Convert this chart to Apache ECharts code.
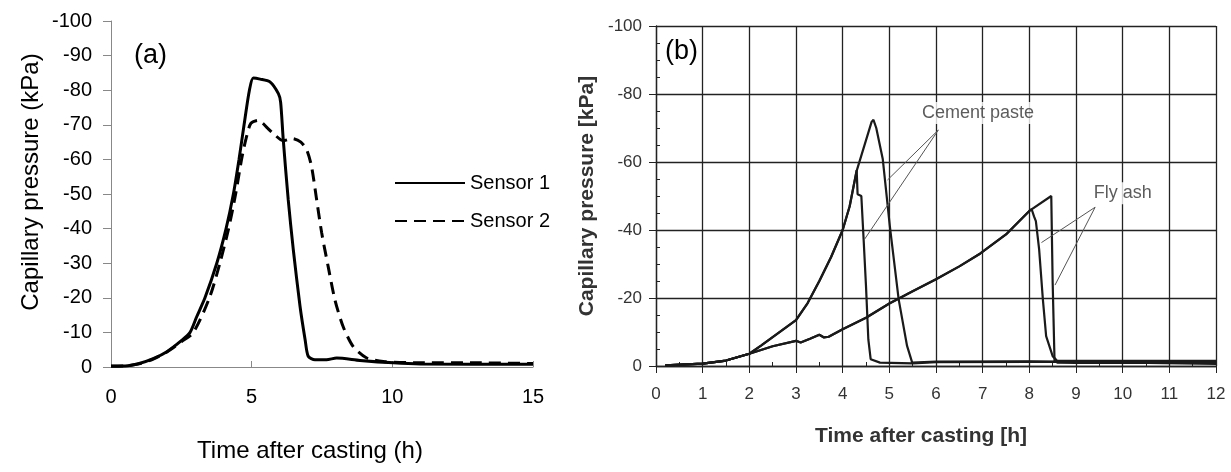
<!DOCTYPE html>
<html><head><meta charset="utf-8">
<script src="https://cdn.jsdelivr.net/npm/echarts@6/dist/echarts.min.js"></script>
<style>html,body{margin:0;padding:0;background:#fff}#c{width:1231px;height:472px}</style>
</head><body><div id="c"></div>
<script>
// ---------- Panel (a) data ----------
const sensor1Time = [0, 0.5, 1, 1.5, 2, 2.5, 2.81, 3.05, 3.34, 3.76, 4.09, 4.35, 4.55, 4.73, 4.92, 5.06, 5.3, 5.65, 5.95, 6.03, 6.12, 6.3, 6.48, 6.72, 6.9, 7.01, 7.25, 7.66, 8.02, 8.85, 10.04, 11, 15];
const sensor1Value = [-0.3, -0.3, -1, -2.4, -4.5, -7.6, -10, -14.6, -20, -30, -40, -50, -60, -70, -80, -83.5, -83.2, -82.4, -79, -76.5, -66, -48.3, -33.9, -17.5, -7.9, -3.1, -2.1, -2.1, -2.6, -1.9, -1.2, -0.9, -0.8];
const sensor2Time = [0, 0.5, 1, 1.5, 2, 2.5, 2.93, 3.5, 3.87, 4.18, 4.43, 4.64, 4.8, 4.97, 5.23, 5.4, 5.57, 5.77, 6.12, 6.45, 6.75, 6.96, 7.13, 7.31, 7.49, 7.72, 7.96, 8.25, 8.61, 9.09, 9.68, 11, 13, 15];
const sensor2Value = [-0.2, -0.3, -0.9, -2.3, -4.4, -7.3, -10, -20, -30, -40, -50, -60, -66, -70.4, -71.3, -70.4, -69, -67.5, -65.4, -66, -65, -62.7, -57.9, -48.3, -38.7, -29, -19.4, -11.7, -5.9, -2.6, -1.6, -1.2, -1.2, -1.0];

// ---------- Panel (b) data ----------
const cementATime = [0.2, 1, 1.5, 2, 2.25, 2.5, 2.75, 3.0, 3.25, 3.5, 3.75, 4.0, 4.15, 4.3, 4.32, 4.4, 4.45, 4.5, 4.55, 4.6, 4.8, 5.5, 6, 8, 12];
const cementAValue = [-0.2, -0.7, -1.6, -3.6, -6, -8.5, -11, -13.5, -18.5, -25, -32, -40, -47, -57.6, -50.5, -50, -37, -23.5, -7.8, -2, -1, -0.8, -1.1, -1.2, -1.2];
const cementBTime = [0.2, 1, 1.5, 2, 2.25, 2.5, 2.75, 3.0, 3.25, 3.5, 3.75, 4.0, 4.15, 4.3, 4.62, 4.66, 4.72, 4.86, 5.01, 5.2, 5.38, 5.49, 6, 8, 12];
const cementBValue = [-0.2, -0.7, -1.6, -3.6, -6, -8.5, -11, -13.5, -18.5, -25, -32, -40, -47, -57.4, -71.8, -72.4, -70, -60.8, -41.2, -19.6, -5.9, -1.0, -1.3, -1.4, -0.6];
const flyAshCTime = [0.2, 1, 1.5, 2, 2.5, 3.0, 3.1, 3.3, 3.5, 3.6, 3.7, 4.0, 4.5, 5.0, 5.5, 6.0, 6.5, 6.95, 7.5, 8.0, 8.05, 8.1, 8.14, 8.21, 8.29, 8.36, 8.5, 8.6, 9, 12];
const flyAshCValue = [-0.2, -0.7, -1.6, -3.6, -5.8, -7.4, -6.9, -8, -9.2, -8.4, -8.6, -10.8, -14.2, -18.4, -22, -25.5, -29.3, -33.1, -38.7, -45.6, -46.1, -44, -42.6, -34.3, -19.6, -8.8, -2.9, -1.5, -1.5, -1.5];
const flyAshDTime = [0.2, 1, 1.5, 2, 2.5, 3.0, 3.1, 3.3, 3.5, 3.6, 3.7, 4.0, 4.5, 5.0, 5.5, 6.0, 6.5, 6.95, 7.5, 8.0, 8.47, 8.5, 8.54, 8.6, 9, 12];
const flyAshDValue = [-0.2, -0.7, -1.6, -3.6, -5.8, -7.4, -6.9, -8, -9.2, -8.4, -8.6, -10.8, -14.2, -18.4, -22, -25.5, -29.3, -33.1, -38.7, -45.6, -50, -24.5, -1.5, -1.0, -0.9, -0.9];

// annotations (data coordinates of panel b)
const cementLabel = [6.9, -74.4];
const cementLeaderFrom = [6.05, -69.4];
const cementLeaderTo = [[4.96, -54.7], [4.46, -37.1]];
const flyLabel = [10.0, -50.8];
const flyLeaderFrom = [9.41, -46.7];
const flyLeaderTo = [[8.26, -36.3], [8.55, -23.8]];

const pairs = (xs, ys) => xs.map((x, i) => [x, ys[i]]);

const FA = '"Liberation Sans", Arial, sans-serif';

const chart = echarts.init(document.getElementById('c'), null, {renderer: 'canvas'});

const bLine = (name, xs, ys) => ({
  type: 'line', name: name, xAxisIndex: 1, yAxisIndex: 1, data: pairs(xs, ys),
  symbol: 'none', showSymbol: false, lineStyle: {color: '#1a1a1a', width: 2.2}, itemStyle: {color: '#1a1a1a'}, z: 3
});

const leaderData = [];
cementLeaderTo.forEach(p => leaderData.push([{coord: cementLeaderFrom}, {coord: p}]));
flyLeaderTo.forEach(p => leaderData.push([{coord: flyLeaderFrom}, {coord: p}]));

chart.setOption({
  animation: false,
  backgroundColor: '#fff',
  grid: [
    {left: 111, top: 21, width: 422, height: 346},
    {left: 656, top: 26, width: 560, height: 340}
  ],
  legend: {
    data: ['Sensor 1', 'Sensor 2'], left: 389, top: 168, orient: 'vertical',
    itemWidth: 70, itemHeight: 14, itemGap: 18,
    itemStyle: {opacity: 0},
    textStyle: {fontSize: 20, color: '#000', fontFamily: FA}
  },
  graphic: [
    {type: 'text', left: 134, top: 42, style: {text: '(a)', fontSize: 27, fill: '#000', fontFamily: FA}},
    {type: 'text', left: 665, top: 38, style: {text: '(b)', fontSize: 27, fill: '#000', fontFamily: FA}}
  ],
  xAxis: [
    {
      gridIndex: 0, type: 'value', min: 0, max: 15, interval: 5,
      axisLine: {onZero: false, lineStyle: {color: '#888', width: 1}},
      axisTick: {inside: true, length: 6, lineStyle: {color: '#888'}},
      axisLabel: {margin: 20, fontSize: 20, color: '#000', fontFamily: FA},
      splitLine: {show: false},
      name: 'Time after casting (h)', nameLocation: 'middle', nameGap: 72,
      nameTextStyle: {fontSize: 24, color: '#000', fontFamily: FA, padding: [0, 24, 0, 0]}
    },
    {
      gridIndex: 1, type: 'value', min: 0, max: 12, interval: 1,
      axisLine: {onZero: false, lineStyle: {color: '#222', width: 1.3}},
      axisTick: {inside: false, length: 7, lineStyle: {color: '#222'}},
      minorTick: {show: true, splitNumber: 2, length: -4, lineStyle: {color: '#222'}},
      axisLabel: {margin: 20, fontSize: 17, color: '#333', fontFamily: FA},
      splitLine: {show: true, lineStyle: {color: '#222', width: 1.3}},
      name: 'Time after casting [h]', nameLocation: 'middle', nameGap: 60,
      nameTextStyle: {fontSize: 21, fontWeight: 'bold', color: '#333', fontFamily: FA, padding: [0, 30, 0, 0]}
    }
  ],
  yAxis: [
    {
      gridIndex: 0, type: 'value', min: -100, max: 0, interval: 10, inverse: true,
      axisLine: {show: true, onZero: false, lineStyle: {color: '#888', width: 1}},
      axisTick: {show: true, length: 8, lineStyle: {color: '#888'}},
      axisLabel: {margin: 19, fontSize: 20, color: '#000', fontFamily: FA},
      splitLine: {show: false},
      name: 'Capillary pressure (kPa)', nameLocation: 'middle', nameGap: 68,
      nameTextStyle: {fontSize: 24, color: '#000', fontFamily: FA, padding: [0, 0, 0, 24]}
    },
    {
      gridIndex: 1, type: 'value', min: -100, max: 0, interval: 20, inverse: true,
      axisLine: {show: true, onZero: false, lineStyle: {color: '#222', width: 1.3}},
      axisTick: {show: true, length: 7, lineStyle: {color: '#222'}},
      minorTick: {show: true, splitNumber: 4, length: -4, lineStyle: {color: '#222'}},
      axisLabel: {margin: 14, fontSize: 17, color: '#333', fontFamily: FA},
      splitLine: {show: true, lineStyle: {color: '#222', width: 1.3}},
      name: 'Capillary pressure [kPa]', nameLocation: 'middle', nameGap: 58,
      nameTextStyle: {fontSize: 21, fontWeight: 'bold', color: '#333', fontFamily: FA}
    }
  ],
  series: [
    {
      type: 'line', name: 'Sensor 1', xAxisIndex: 0, yAxisIndex: 0, data: pairs(sensor1Time, sensor1Value),
      symbol: 'none', showSymbol: false, smooth: 0.25,
      lineStyle: {color: '#000', width: 3}, itemStyle: {color: '#000'}
    },
    {
      type: 'line', name: 'Sensor 2', xAxisIndex: 0, yAxisIndex: 0, data: pairs(sensor2Time, sensor2Value),
      symbol: 'none', showSymbol: false, smooth: 0.25,
      lineStyle: {color: '#000', width: 3, type: [12, 7]}, itemStyle: {color: '#000'}
    },
    bLine('Cement paste A', cementATime, cementAValue),
    bLine('Cement paste B', cementBTime, cementBValue),
    bLine('Fly ash C', flyAshCTime, flyAshCValue),
    bLine('Fly ash D', flyAshDTime, flyAshDValue),
    {
      type: 'scatter', name: 'annotations', xAxisIndex: 1, yAxisIndex: 1, symbolSize: 1,
      itemStyle: {color: 'transparent'},
      data: [{name: 'Cement paste', value: cementLabel}, {name: 'Fly ash', value: flyLabel}],
      label: {show: true, position: 'inside', formatter: '{b}', fontSize: 18, color: '#333', fontFamily: FA,
               backgroundColor: '#fff', padding: [2, 3]},
      markLine: {
        silent: true, symbol: 'none', animation: false,
        label: {show: false},
        lineStyle: {color: '#555', width: 1, type: 'solid'},
        data: leaderData
      },
      z: 4
    }
  ]
});
</script></body></html>
